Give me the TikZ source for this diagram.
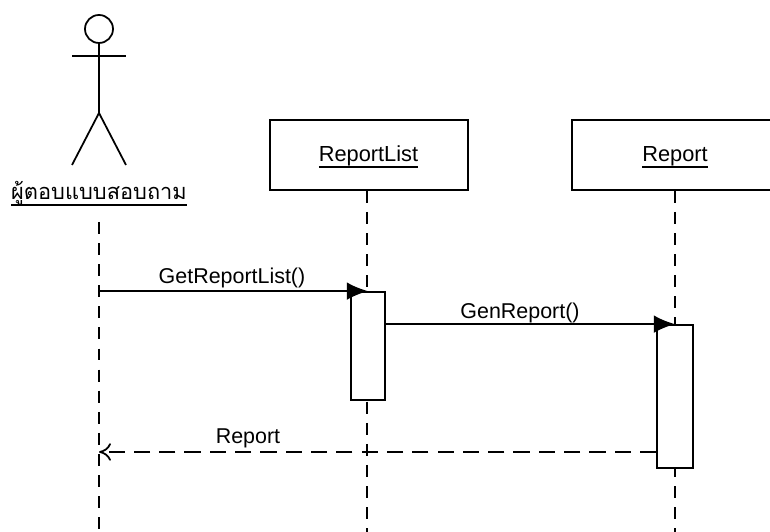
\documentclass[tikz,border=0pt]{standalone}
\usepackage{fontspec}
\setmainfont{Liberation Sans}
\newfontfamily\thaifont[Script=Thai]{Loma}
\usepackage{tikz}
\usetikzlibrary{calc,arrows.meta}
\newcommand{\objname}[1]{\underline{\raisebox{0pt}[\height][0pt]{#1}}}
\tikzset{
  objbox/.style={draw,line width=0.5pt,minimum height=0.70cm,inner sep=0pt,fill=white,font=\fontsize{6.2}{7}\selectfont},
  objtext/.style={inner sep=0pt,font=\fontsize{6.2}{7}\selectfont},
  activebox/.style={draw,line width=0.5pt,fill=white,inner sep=0pt},
  lifeline/.style={line width=0.5pt,dash pattern=on 3.4pt off 2.6pt},
  stick/.style={line width=0.5pt},
  msgcall/.style={line width=0.5pt,-{Latex[length=6pt,width=5pt]}},
  msgback/.style={line width=0.5pt,dash pattern=on 4.6pt off 2.6pt,-{To[length=3.4pt,width=5pt]}},
  msglabel/.style={font=\fontsize{6.1}{7}\selectfont,inner sep=0pt}
}
\begin{document}
\begin{tikzpicture}
        \useasboundingbox (0,0) rectangle (7.70,5.32);
        % actor
        \node[draw,circle,line width=0.5pt,minimum size=0.28cm,inner sep=0pt] (head) at (0.99,5.03) {};
        \coordinate (armL) at (0.72,4.76);
        \coordinate (armR) at (1.26,4.76);
        \coordinate (hip) at (0.99,4.19);
        \coordinate (footL) at (0.72,3.67);
        \coordinate (footR) at (1.26,3.67);
        \draw[stick] (head.south) -- (hip);
        \draw[stick] (armL) -- (armR);
        \draw[stick] (footL) -- (hip) -- (footR);
        \node[objtext,anchor=base,font=\fontsize{6.2}{7}\selectfont\thaifont] (actor) at (0.99,3.32) {\objname{ผู้ตอบแบบสอบถาม}};
        % objects
        \node[objbox,minimum width=1.98cm] (listbox) at (3.69,3.77) {};
        \node[objbox,minimum width=2.06cm] (reportbox) at (6.75,3.77) {};
        \node[objtext,anchor=base] (listname) at (3.685,3.70) {\objname{ReportList}};
        \node[objtext,anchor=base] (reportname) at (6.75,3.70) {\objname{Report}};
        % routine for lifelines
        \coordinate (actorstart) at (0.99,3.10);
        \coordinate (actorend) at (0.99,0);
        \coordinate (listend) at (3.67,0);
        \coordinate (reportend) at (6.75,0);
        \draw[lifeline] (actorstart) -- (actorend);
        \draw[lifeline] (listbox.south -| listend) -- (listend);
        \draw[lifeline] (reportbox.south) -- (reportend);
        % activations
        \node[activebox,minimum width=0.34cm,minimum height=1.08cm] (listact) at (3.68,1.86) {};
        \node[activebox,minimum width=0.36cm,minimum height=1.43cm] (reportact) at (6.75,1.355) {};
        % messages
        \coordinate (callstart) at (actorstart |- listact.north);
        \coordinate (backend) at (0.99,0.80);
        \draw[msgcall] (callstart) -- (listact.north);
        \draw[msgcall] (listact.east |- reportact.north) -- (reportact.north);
        \draw[msgback] (reportact.west |- backend) -- (backend);
        \node[msglabel] (getlabel) at (2.32,2.54) {GetReportList()};
        \node[msglabel] (genlabel) at (5.20,2.19) {GenReport()};
        \node[msglabel] (backlabel) at (2.48,0.94) {Report};
\end{tikzpicture}
\end{document}
